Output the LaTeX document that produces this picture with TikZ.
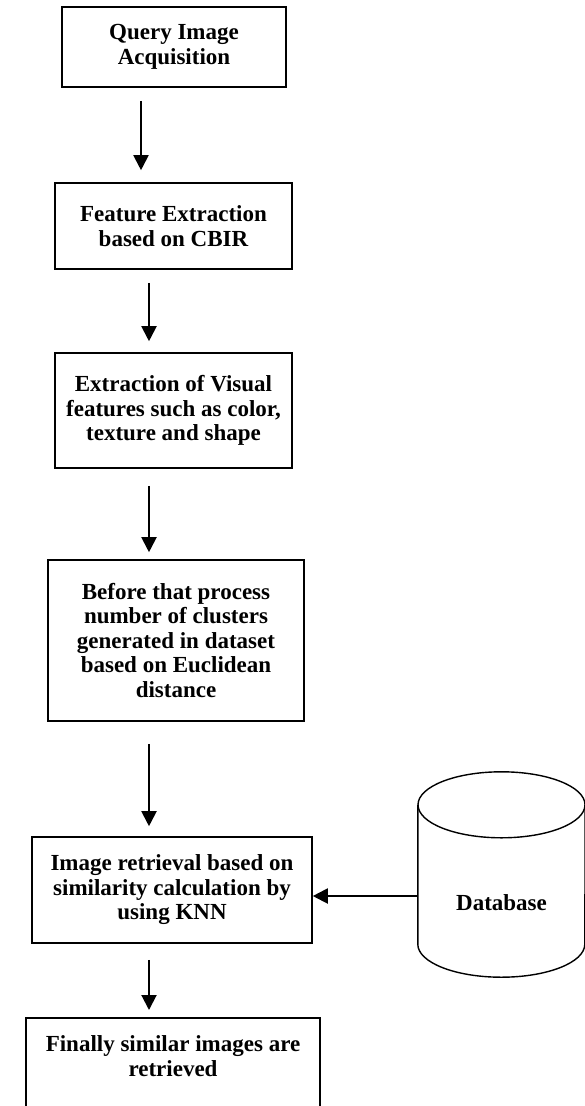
\documentclass[tikz,border=0pt]{standalone}
\usepackage{fontspec}
\setmainfont{Liberation Serif}
\usepackage{tikz}
\usetikzlibrary{arrows.meta, positioning, calc}

\begin{document}
\begin{tikzpicture}[
    x=1pt, y=-1pt,
    box/.style={rectangle, draw, line width=1.6pt, align=center, inner sep=0pt,
        font=\bfseries\fontsize{23}{24.5}\selectfont},
    flow/.style={-{Triangle[length=15pt, width=15pt]}, line width=2pt},
    dbline/.style={line width=1.4pt}
]

\useasboundingbox (0,0) rectangle (585,1106);
\clip (0,0) rectangle (585,1106);

% Process steps
\node[box, minimum width=224pt, minimum height=80pt] (acq) at (174,47)
    {Query Image\\Acquisition};

\node[box, minimum width=237pt, minimum height=86pt] (feat) at (173.5,226)
    {Feature Extraction\\based on CBIR};

\node[box, minimum width=237pt, minimum height=115pt] (vis) at (173.5,410.5)
    {Extraction of Visual\\features such as color,\\texture and shape};

\node[box, minimum width=256pt, minimum height=161pt] (clus) at (176,640.5)
    {Before that process\\number of clusters\\generated in dataset\\based on Euclidean\\distance};

\node[box, minimum width=280pt, minimum height=106pt] (retr) at (172,890)
    {Image retrieval based on\\similarity calculation by\\using KNN};

\node[box, anchor=north, inner ysep=18pt] (final) at (173,1017)
    {\begin{minipage}[c][100pt][t]{294pt}\centering
     Finally similar images are\\retrieved\end{minipage}};

% Database
\node[font=\bfseries\fontsize{23}{24.5}\selectfont, minimum width=167pt, minimum height=205pt,
    inner sep=0pt, text height=77pt, text depth=5pt] (db) at (501.5,874.5) {Database};
\draw[dbline] ([yshift=-33pt]db.north) ellipse [x radius=83.5pt, y radius=33pt];
\draw[dbline] ([yshift=-33pt]db.north west) -- ([yshift=33pt]db.south west)
    arc[start angle=180, end angle=360, x radius=83.5pt, y radius=33pt]
    -- ([yshift=-33pt]db.north east);

% Arrows
\draw[flow, shorten <=13pt, shorten >=12pt] ([xshift=-33pt]acq.south) -- ([xshift=-33pt]acq.south |- feat.north);
\draw[flow, shorten <=13pt, shorten >=11pt] ([xshift=-24.5pt]feat.south) -- ([xshift=-24.5pt]feat.south |- vis.north);
\draw[flow, shorten <=17pt, shorten >=7pt] ([xshift=-24.5pt]vis.south) -- ([xshift=-24.5pt]vis.south |- clus.north);
\draw[flow, shorten <=22pt, shorten >=10pt] ([xshift=-27pt]clus.south) -- ([xshift=-27pt]clus.south |- retr.north);
\draw[flow, shorten <=16pt, shorten >=7pt] ([xshift=-23pt]retr.south) -- ([xshift=-23pt]retr.south |- final.north);
\draw[flow] ([yshift=-21.5pt]db.west) -- ([yshift=-21.5pt]db.west -| retr.east);

\end{tikzpicture}
\end{document}
